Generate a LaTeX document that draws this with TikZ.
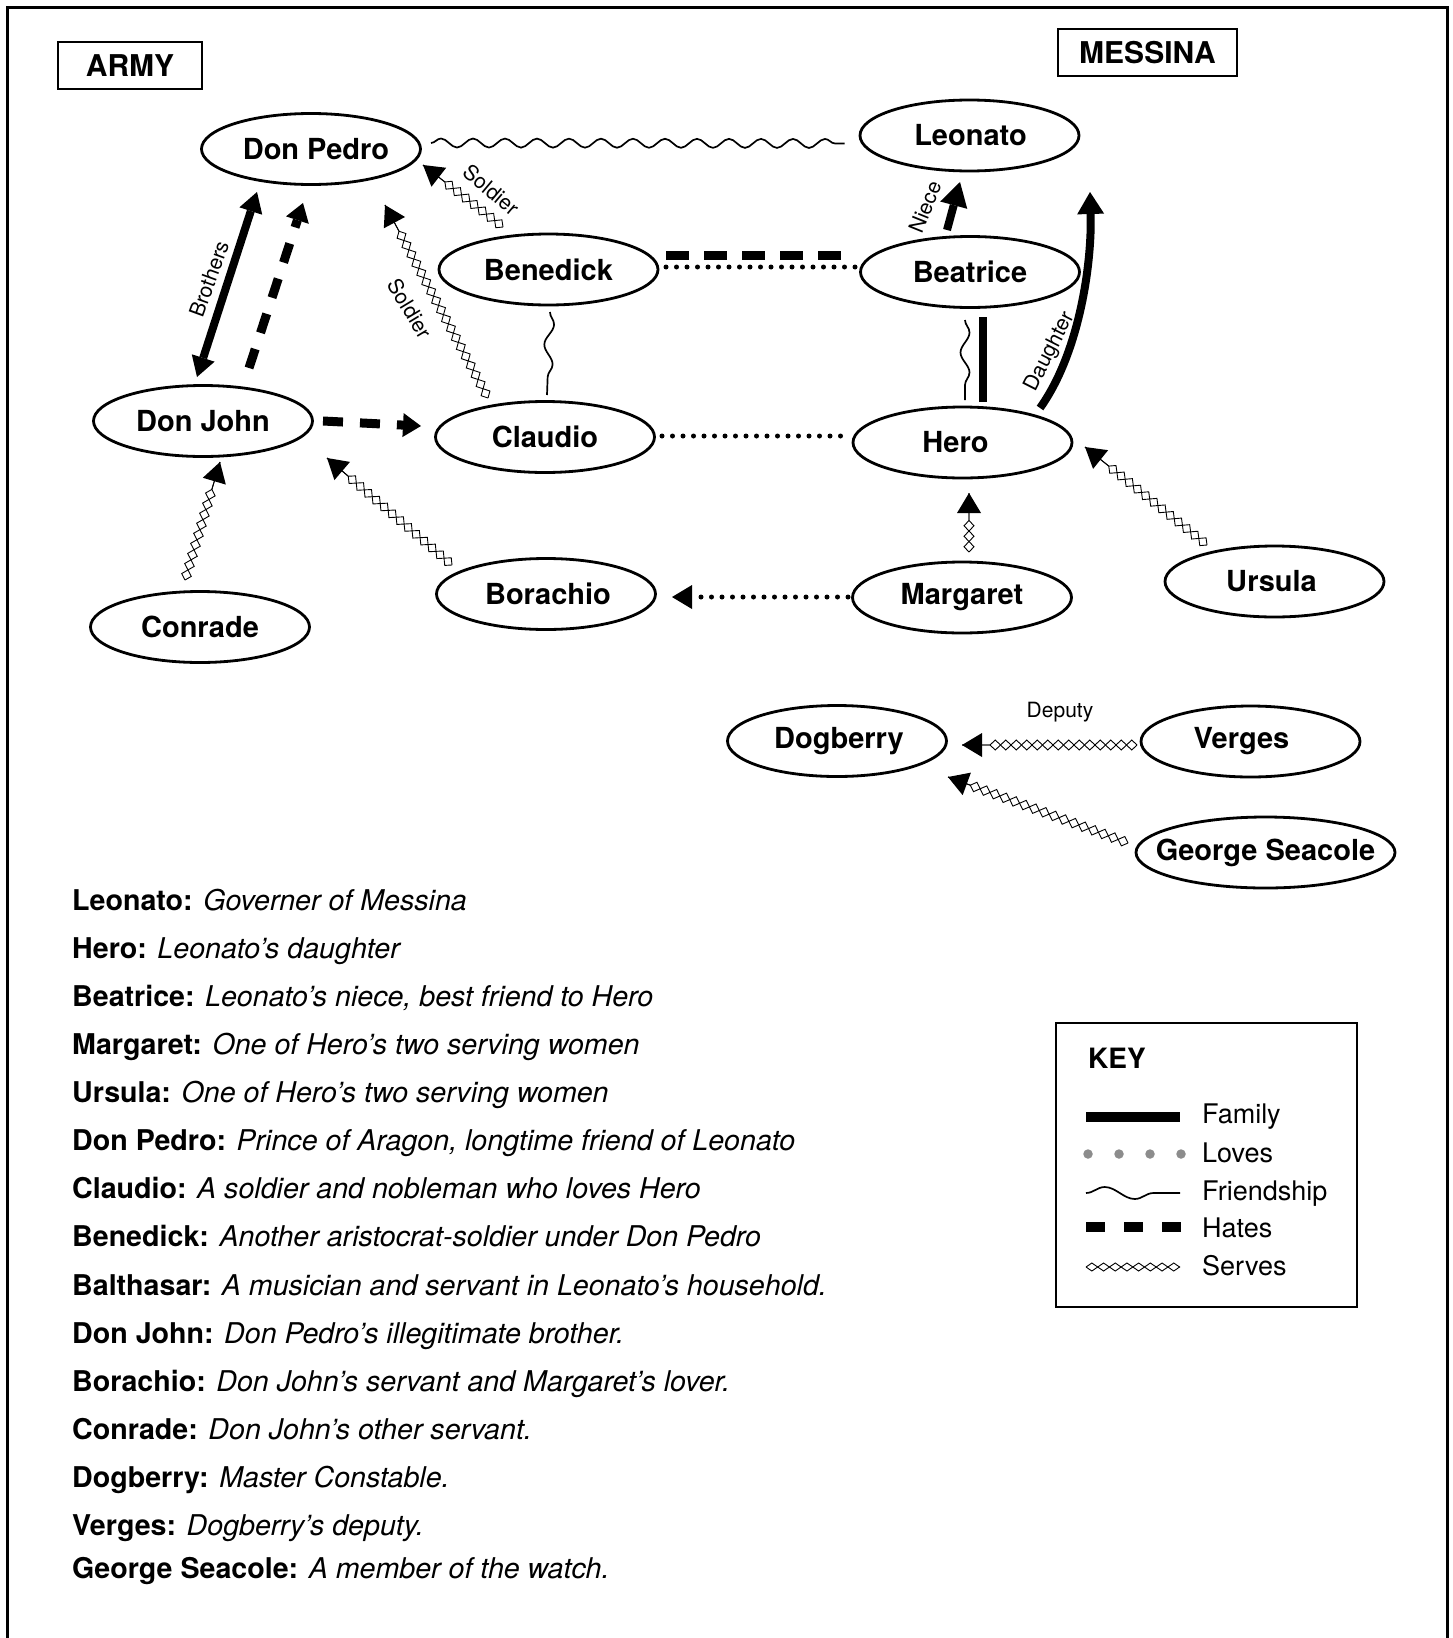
\documentclass[tikz,border=0pt]{standalone}
\usepackage{fontspec}
\setmainfont{TeX Gyre Heros}
\usetikzlibrary{shapes.geometric,arrows.meta,decorations.pathmorphing}
\definecolor{dotgray}{RGB}{140,140,140}
\newcommand{\nudge}[2]{\makebox[0pt]{\hspace*{#1}#2\hspace*{-#1}}}
\tikzset{
  person/.style={ellipse, draw, line width=2.8pt, minimum width=219pt, minimum height=71pt, inner sep=0pt, font=\fontsize{29}{32}\selectfont\bfseries},
  groupbox/.style={rectangle, draw, line width=2.8pt, inner sep=0pt, font=\fontsize{30}{34}\selectfont\bfseries},
  edgelabel/.style={inner sep=0pt, font=\fontsize{21}{24}\selectfont},
  desc/.style={anchor=base west, inner sep=0pt, font=\fontsize{28.6}{32}\selectfont},
  keylabel/.style={anchor=base west, inner sep=0pt, font=\fontsize{27}{32}\selectfont},
  family/.style={line width=8pt},
  hates/.style={line width=9pt, dash pattern=on 20pt off 17pt},
  loves/.style={line width=5pt, line cap=round, dash pattern=on 0pt off 10.5pt},
  friend/.style={line width=1.7pt, decorate, decoration={snake, segment length=#1, amplitude=4.5pt}},
  friend/.default=32pt,
  serves/.style={draw=white, line width=0.8pt, -{Triangle[length=20pt,width=24pt,color=black,line width=0pt]},
    postaction={draw=black, line width=0.9pt, -, decorate, decoration={zigzag, segment length=21pt, amplitude=5pt, post length=20pt}},
    postaction={draw=black, line width=0.9pt, -, decorate, decoration={zigzag, segment length=21pt, amplitude=5pt, mirror, post length=20pt}}},
}
\begin{document}
\begin{tikzpicture}[x=1pt,y=-1pt]
\useasboundingbox (0,0) rectangle (1452,1638);
% outer frame (open at the bottom)
\draw[line width=3pt] (7,1650) -- (7,7) -- (1447,7) -- (1447,1650);

% group boxes
\node[groupbox, minimum width=144pt, minimum height=47pt] (army) at (130,65.5) {ARMY};
\node[groupbox, minimum width=179pt, minimum height=47pt] (messina) at (1147.5,52.5) {MESSINA};

% people
\node[person] (donpedro) at (311,149) {\nudge{5pt}{Don Pedro}};
\node[person] (leonato) at (969.5,135.5) {\nudge{1pt}{Leonato}};
\node[person] (benedick) at (548.5,269.5) {Benedick};
\node[person] (beatrice) at (970,272) {Beatrice};
\node[person] (donjohn) at (203,421) {Don John};
\node[person] (claudio) at (545,437) {Claudio};
\node[person] (hero) at (962.5,442.5) {\nudge{-7pt}{Hero}};
\node[person] (borachio) at (546,594) {\nudge{2pt}{Borachio}};
\node[person] (margaret) at (962,597.5) {Margaret};
\node[person] (ursula) at (1274.5,581.5) {\nudge{-3pt}{Ursula}};
\node[person] (conrade) at (200,627) {Conrade};
\node[person] (dogberry) at (837,741) {\nudge{2pt}{Dogberry}};
\node[person] (verges) at (1250.5,741.5) {\nudge{-9pt}{Verges}};
\node[person, minimum width=259pt] (seacole) at (1265.5,852.5) {\nudge{0pt}{George Seacole}};

% friendship
\draw[friend] ([shift={(120,-6)}]donpedro.center) -- ([shift={(-125,8)}]leonato.center);
\draw[friend=40pt] ([shift={(1.5,42.5)}]benedick.center) -- ([shift={(2,-42)}]claudio.center);
\draw[friend=40pt] ([shift={(-5,48)}]beatrice.center) -- ([shift={(2.5,-42.5)}]hero.center);

% family
\draw[family, {Triangle[length=20pt,width=24pt,line width=0pt]}-{Triangle[length=20pt,width=24pt,line width=0pt]}]
  ([shift={(-54,43)}]donpedro.center) -- ([shift={(-6,-44)}]donjohn.center);
\draw[family, -{Triangle[length=24pt,width=28pt,line width=0pt]}]
  ([shift={(-23,-42)}]beatrice.center) -- ([shift={(-9.5,46.5)}]leonato.center);
\draw[family] ([shift={(13,45)}]beatrice.center) -- ([shift={(20.5,-40.5)}]hero.center);
\draw[family, -{Triangle[length=22pt,width=27pt,line width=0pt]}]
  ([shift={(77.5,-34.5)}]hero.center) .. controls +(40,-56) and +(2,70) .. ([shift={(120.5,56.5)}]leonato.center);

% hates
\draw[hates, -{Triangle[length=18pt,width=24pt,line width=0pt]}]
  ([shift={(46,-53)}]donjohn.center) -- ([shift={(-8,54)}]donpedro.center);
\draw[hates, -{Triangle[length=18pt,width=24pt,line width=0pt]}]
  ([shift={(120,0)}]donjohn.center) -- ([shift={(-124,-11)}]claudio.center);
\draw[hates, dash pattern=on 23pt off 15pt] ([shift={(117.5,-14.5)}]benedick.center) -- ([shift={(-123,-17)}]beatrice.center);

% loves
\draw[loves] ([shift={(117.5,-2.5)}]benedick.center) -- ([shift={(-115,-5)}]beatrice.center);
\draw[loves] ([shift={(117,-1)}]claudio.center) -- ([shift={(-114.5,-6.5)}]hero.center);
\draw[loves, -{Triangle[length=20pt,width=24pt,line width=0pt]}]
  ([shift={(-114,-0.5)}]margaret.center) -- ([shift={(126,3)}]borachio.center);

% serves
\draw[serves] ([shift={(-45.5,-42.5)}]benedick.center) -- ([shift={(112,16)}]donpedro.center);
\draw[serves] ([shift={(-57,-39)}]claudio.center) -- ([shift={(74,56)}]donpedro.center);
\draw[serves] ([shift={(7,-45.5)}]margaret.center) -- ([shift={(6.5,50.5)}]hero.center);
\draw[serves] ([shift={(-67.5,-36.5)}]ursula.center) -- ([shift={(122.5,4.5)}]hero.center);
\draw[serves] ([shift={(-94,-29)}]borachio.center) -- ([shift={(124,37)}]donjohn.center);
\draw[serves] ([shift={(-15,-47)}]conrade.center) -- ([shift={(17,41)}]donjohn.center);
\draw[serves] ([shift={(-113.5,3.5)}]verges.center) -- ([shift={(125,4)}]dogberry.center);
\draw[serves] ([shift={(-137.5,-9.5)}]seacole.center) -- ([shift={(111,36)}]dogberry.center);

% edge labels
\node[edgelabel, rotate=-40] (lsold1) at (491,190) {Soldier};
\node[edgelabel, rotate=-59] (lsold2) at (410,309) {Soldier};
\node[edgelabel, rotate=70] (lbro) at (209,279) {Brothers};
\node[edgelabel, rotate=68] (lniece) at (925,207) {Niece};
\node[edgelabel, rotate=63] (ldau) at (1050,352) {Daughter};
\node[edgelabel] (ldep) at (1060,712) {Deputy};

% descriptions
\node[desc] (d1) at (72,910) {\textbf{Leonato:} \textit{Governer of Messina}};
\node[desc] (d2) at (72,958.5) {\textbf{Hero:} \textit{Leonato’s daughter}};
\node[desc] (d3) at (72,1006.5) {\textbf{Beatrice:} \textit{Leonato’s niece, best friend to Hero}};
\node[desc] (d4) at (72,1054.5) {\textbf{Margaret:} \textit{One of Hero’s two serving women}};
\node[desc] (d5) at (72,1102.5) {\textbf{Ursula:} \textit{One of Hero’s two serving women}};
\node[desc] (d6) at (72,1150.5) {\textbf{Don Pedro:} \textit{Prince of Aragon, longtime friend of Leonato}};
\node[desc] (d7) at (72,1198.5) {\textbf{Claudio:} \textit{A soldier and nobleman who loves Hero}};
\node[desc] (d8) at (72,1246.5) {\textbf{Benedick:} \textit{Another aristocrat-soldier under Don Pedro}};
\node[desc] (d9) at (72,1295) {\textbf{Balthasar:} \textit{A musician and servant in Leonato’s household.}};
\node[desc] (d10) at (72,1343) {\textbf{Don John:} \textit{Don Pedro’s illegitimate brother.}};
\node[desc] (d11) at (72,1391) {\textbf{Borachio:} \textit{Don John’s servant and Margaret’s lover.}};
\node[desc] (d12) at (72,1439) {\textbf{Conrade:} \textit{Don John’s other servant.}};
\node[desc] (d13) at (72,1487) {\textbf{Dogberry:} \textit{Master Constable.}};
\node[desc] (d14) at (72,1535) {\textbf{Verges:} \textit{Dogberry’s deputy.}};
\node[desc] (d15) at (72,1578) {\textbf{George Seacole:} \textit{A member of the watch.}};

% key
\draw[line width=2.8pt] (1056,1023) rectangle (1357,1307);
\node[anchor=base west, inner sep=0pt, font=\fontsize{28}{32}\selectfont\bfseries] (keytitle) at (1088,1068) {KEY};
\draw[line width=10pt] (1086,1117) -- (1180,1117);
\node[keylabel] (kfam) at (1202,1123) {Family};
\draw[dotgray, line width=9.5pt, line cap=round, dash pattern=on 0pt off 31pt] (1088,1154) -- (1185,1154);
\node[keylabel] (klov) at (1202,1162) {Loves};
\draw[line width=1.7pt, decorate, decoration={snake, segment length=60pt, amplitude=6pt}] (1086,1193) -- (1180,1193);
\node[keylabel] (kfri) at (1202,1200) {Friendship};
\draw[line width=10pt, dash pattern=on 19pt off 19pt] (1086,1227) -- (1181,1227);
\node[keylabel] (khat) at (1202,1237) {Hates};
\draw[line width=0.9pt, decorate, decoration={zigzag, segment length=23.4pt, amplitude=4pt}] (1086,1267) -- (1180,1267);
\draw[line width=0.9pt, decorate, decoration={zigzag, segment length=23.4pt, amplitude=4pt, mirror}] (1086,1267) -- (1180,1267);
\node[keylabel] (kser) at (1202,1275) {Serves};
\end{tikzpicture}
\end{document}
